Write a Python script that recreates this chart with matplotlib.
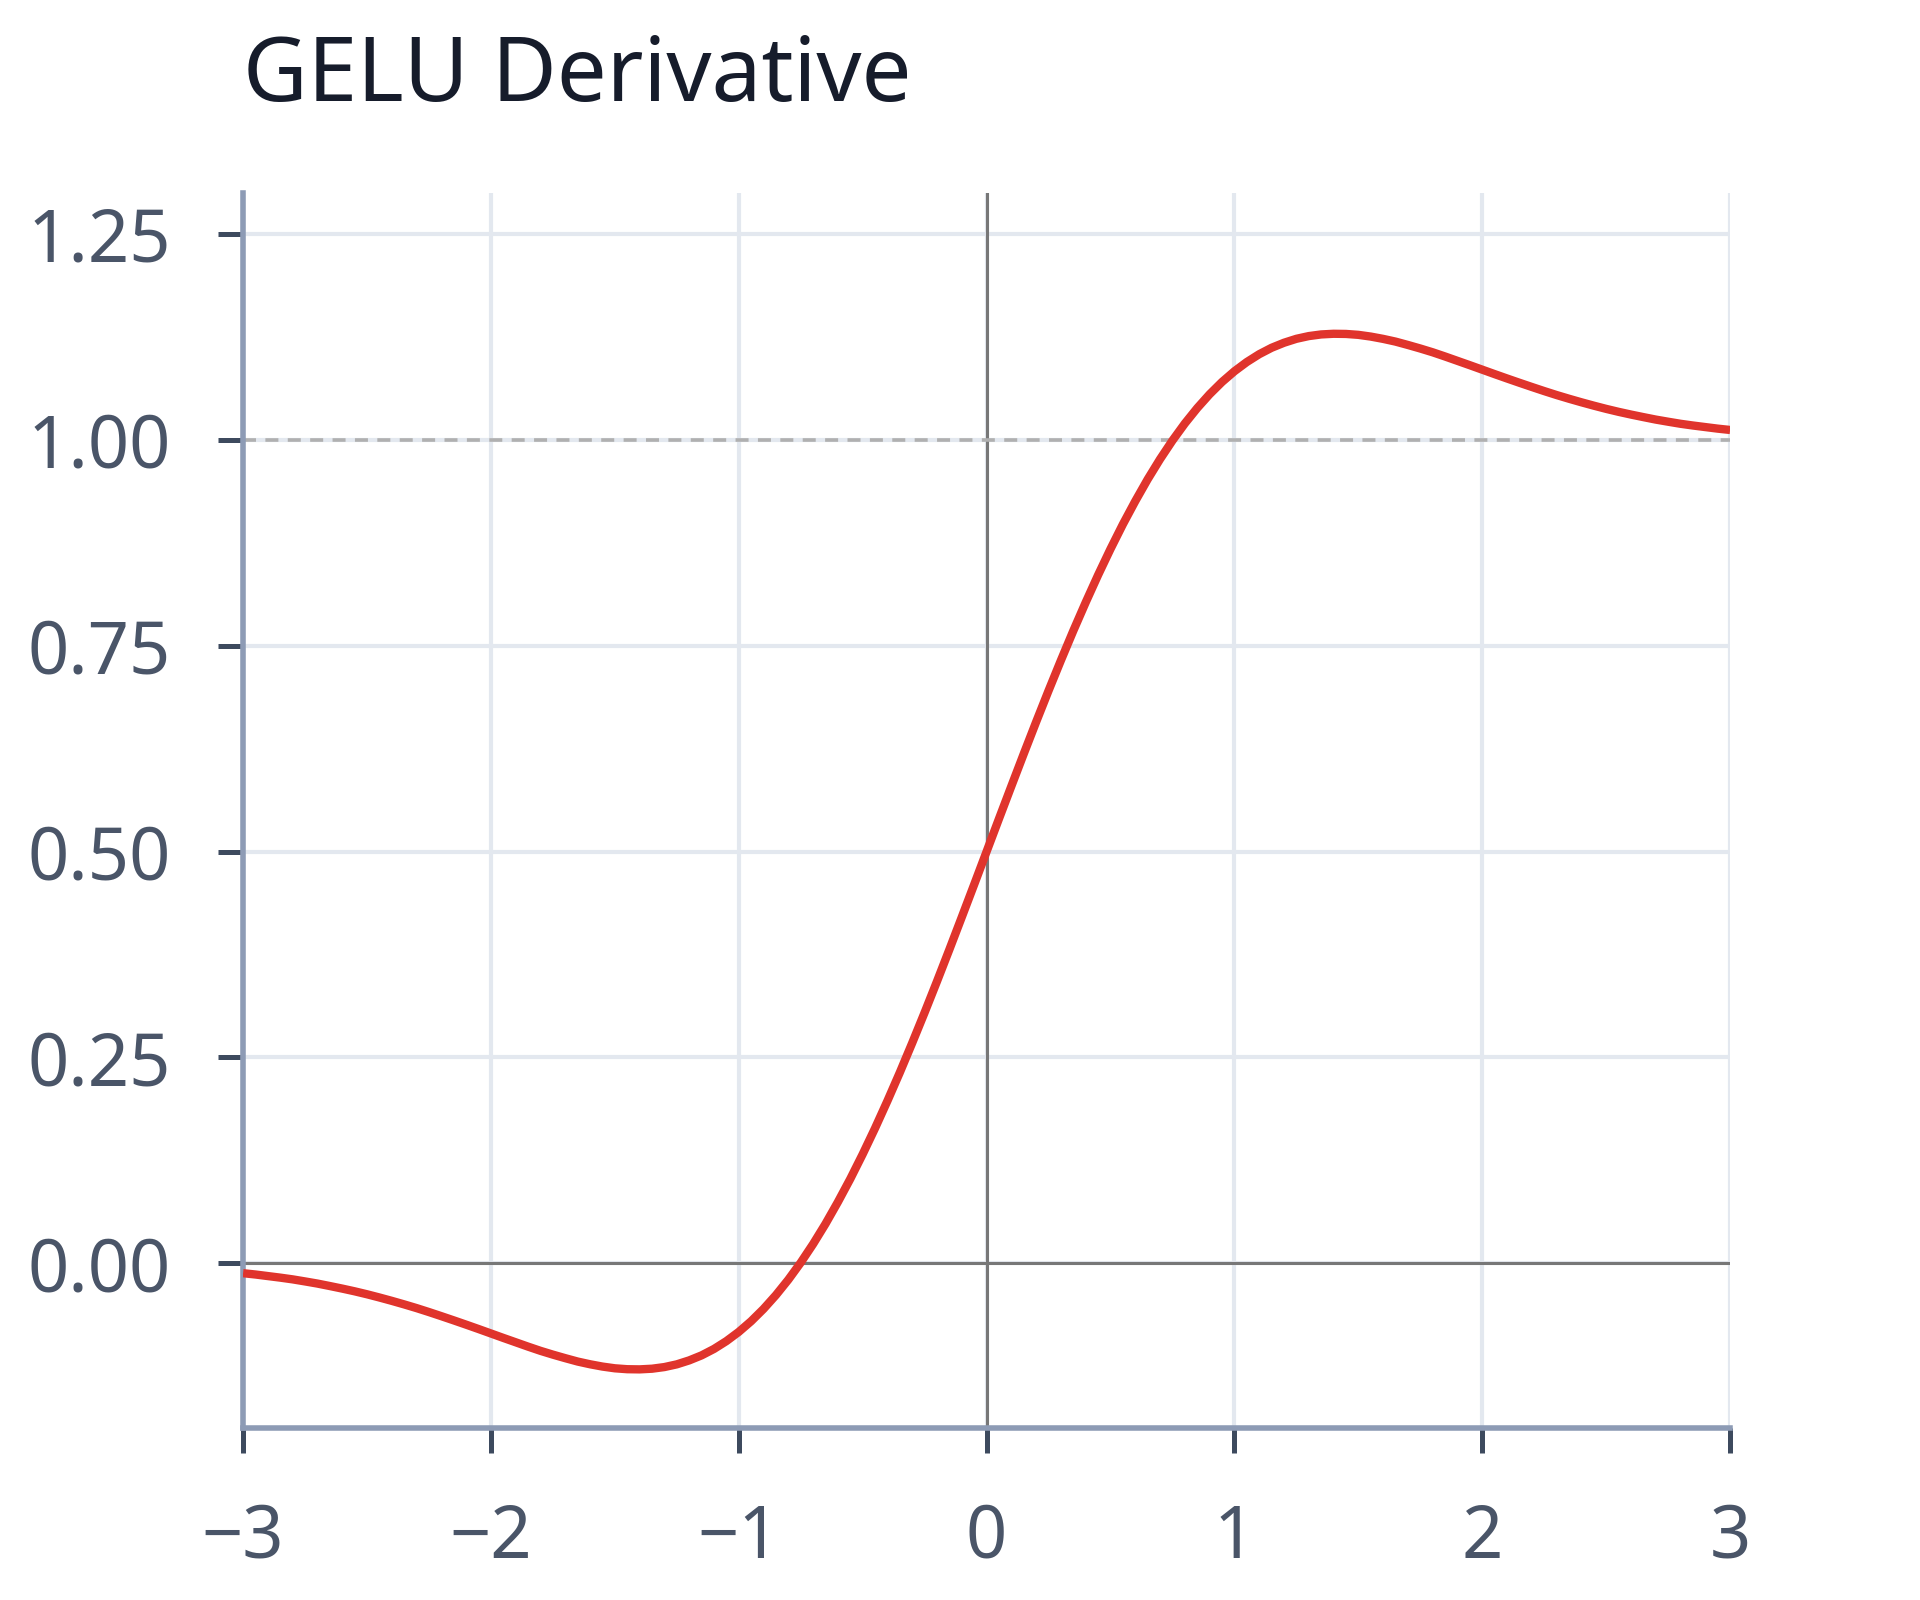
import numpy as np
from matplotlib import pyplot as plt

plt.rcParams['font.family'] = ['Noto Sans', 'DejaVu Sans']

# values, x from -3 to 3 every 0.05
x = np.linspace(-3, 3, 121)
dgelu = [
    -0.0120, -0.0136, -0.0155, -0.0174, -0.0195, -0.0220, -0.0246, -0.0276, -0.0307, -0.0340,
    -0.0376, -0.0415, -0.0456, -0.0499, -0.0544, -0.0592, -0.0642, -0.0693, -0.0745, -0.0798,
    -0.0852, -0.0906, -0.0959, -0.1012, -0.1063, -0.1109, -0.1152, -0.1193, -0.1226, -0.1254,
    -0.1275, -0.1286, -0.1288, -0.1280, -0.1260, -0.1227, -0.1179, -0.1118, -0.1040, -0.0945,
    -0.0833, -0.0703, -0.0554, -0.0386, -0.0199, 0.0008, 0.0234, 0.0479, 0.0744, 0.1025,
    0.1325, 0.1641, 0.1973, 0.2318, 0.2677, 0.3046, 0.3425, 0.3812, 0.4205, 0.4601,
    0.5000,
    0.5399, 0.5795, 0.6188, 0.6575, 0.6954, 0.7323, 0.7682, 0.8027, 0.8359, 0.8675,
    0.8975, 0.9256, 0.9521, 0.9766, 0.9992, 1.0199, 1.0386, 1.0554, 1.0703, 1.0833,
    1.0945, 1.1040, 1.1118, 1.1179, 1.1227, 1.1260, 1.1280, 1.1288, 1.1286, 1.1275,
    1.1254, 1.1226, 1.1193, 1.1152, 1.1109, 1.1063, 1.1012, 1.0959, 1.0906, 1.0852,
    1.0798, 1.0745, 1.0693, 1.0642, 1.0592, 1.0544, 1.0499, 1.0456, 1.0415, 1.0376,
    1.0340, 1.0307, 1.0276, 1.0246, 1.0220, 1.0195, 1.0174, 1.0155, 1.0136, 1.0120,
]

xticks = [-3, -2, -1, 0, 1, 2, 3]
yticks = [0.00, 0.25, 0.50, 0.75, 1.00, 1.25]
title = "GELU Derivative"

fig = plt.figure(figsize=(19.2, 16), dpi=100)
ax = fig.add_axes([0.1266, 0.1075, 0.7745, 0.772])

ax.set_xlim(-3, 3)
ax.set_ylim(-0.2, 1.3)

# grid
for t in xticks:
    ax.axvline(t, color='#e3e8ef', lw=3.0, zorder=0)
for t in yticks:
    ax.axhline(t, color='#e3e8ef', lw=3.0, zorder=0)

# zero lines and y=1 reference
ax.axhline(0, color='#777777', lw=2.2, zorder=1)
ax.axvline(0, color='#777777', lw=2.2, zorder=1)
ax.axhline(1, color='#b0b0b0', lw=2.6, ls=(0, (3.6, 2.6)), zorder=1)

ax.plot(x, dgelu, color='#e0342c', lw=6, zorder=3,
        solid_capstyle='butt', solid_joinstyle='round')

ax.set_xticks(xticks)
ax.set_xticklabels([str(t).replace('-', '\u2212') for t in xticks])
ax.set_yticks(yticks)
ax.set_yticklabels(['%.2f' % t for t in yticks])

for s in ['top', 'right']:
    ax.spines[s].set_visible(False)
for s in ['left', 'bottom']:
    ax.spines[s].set_color('#8d9bb5')
    ax.spines[s].set_linewidth(4.0)

ax.tick_params(axis='both', length=18, width=3.6, color='#3d4a5e',
               labelcolor='#4a5568', labelsize=52)
ax.tick_params(axis='y', pad=34)
ax.tick_params(axis='x', pad=35)

ax.set_title(title, loc='left', fontsize=64, color='#161c2b', pad=66)

fig.savefig('out.png', dpi=100, facecolor='white')
